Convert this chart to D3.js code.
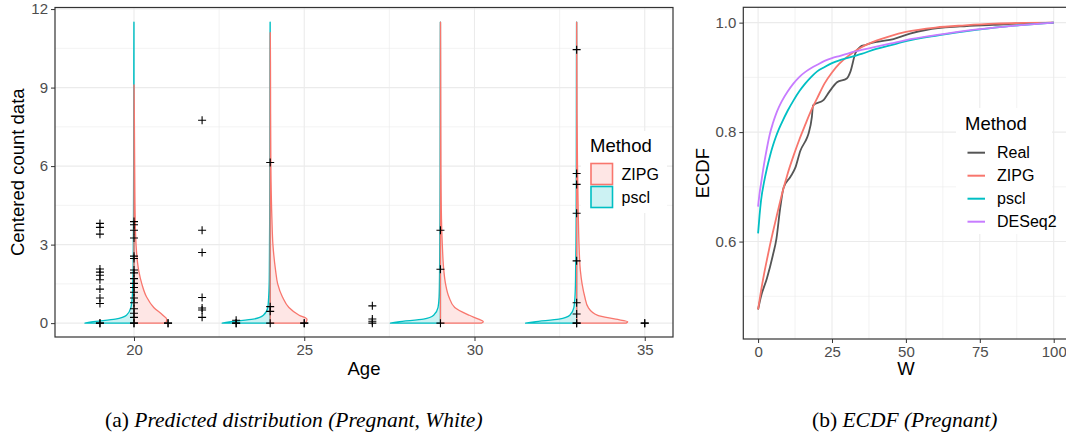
<!DOCTYPE html>
<html>
<head>
<meta charset="utf-8">
<script src="https://cdn.jsdelivr.net/npm/d3@7"></script>
<style>
  body { margin: 0; background: #fff; }
  text { font-family: 'Liberation Sans', Arial, sans-serif; }
</style>
</head>
<body>
<svg id="chart" width="1066" height="437"></svg>
<script>
// ---------- data: panel (a) ----------
const violinAges = [20, 24, 29, 33];
const violinY = [0, 0.05, 0.15, 0.3, 0.6, 1, 1.5, 2, 3, 4, 6, 8, 10, 11.5];
// half-widths in age units, ZIPG to the right, pscl to the left
const zipgWidths = [
  [0.90, 0.95, 0.96, 0.85, 0.58, 0.37, 0.23, 0.14, 0.06, 0.035, 0.02, 0.01, 0.006, 0.004],
  [1.00, 1.06, 1.08, 0.85, 0.55, 0.36, 0.22, 0.16, 0.08, 0.05, 0.02, 0.012, 0.008, 0.004],
  [1.20, 1.26, 1.12, 0.85, 0.42, 0.25, 0.15, 0.10, 0.055, 0.03, 0.015, 0.01, 0.007, 0.004],
  [1.45, 1.50, 1.15, 0.62, 0.34, 0.24, 0.16, 0.11, 0.07, 0.05, 0.025, 0.012, 0.008, 0.004]
];
const psclWidths = [
  [1.44, 1.25, 0.55, 0.22, 0.09, 0.05, 0.035, 0.025, 0.02, 0.015, 0.01, 0.008, 0.006, 0.004],
  [1.41, 1.20, 0.50, 0.20, 0.07, 0.045, 0.03, 0.025, 0.02, 0.015, 0.01, 0.008, 0.006, 0.004],
  [1.47, 1.25, 0.50, 0.20, 0.07, 0.04, 0.03, 0.025, 0.02, 0.015, 0.01, 0.008, 0.006, 0.004],
  [1.50, 1.25, 0.52, 0.20, 0.08, 0.05, 0.035, 0.03, 0.02, 0.015, 0.01, 0.008, 0.006, 0.004]
];
const zipgTop = [9.1, 11.1, 11.5, 11.5];
const psclTop = [11.5, 11.5, 11.5, 11.5];

const pointAges = [19, 20, 21, 22, 23, 24, 25, 27, 29, 33, 35];
const pointValues = [
  [3.81, 3.66, 3.40, 2.07, 1.95, 1.83, 1.66, 1.30, 0.96, 0.75, 0, 0],
  [3.88, 3.76, 3.55, 3.25, 2.56, 2.47, 2.03, 1.92, 1.70, 1.52, 1.36, 1.18, 0.96, 0.78, 0.55, 0.38, 0.22, 0, 0],
  [0, 0],
  [7.75, 3.55, 2.70, 0.98, 0.58, 0.50, 0.22],
  [0.11, 0, 0],
  [6.14, 0.63, 0.45, 0],
  [0, 0],
  [0.66, 0.16, 0.07, 0],
  [3.55, 2.06, 0],
  [10.45, 5.72, 5.30, 4.20, 2.38, 0.78, 0.35, 0, 0],
  [0, 0]
];
const ageTicks = [20, 25, 30, 35];
const ageMinor = [22.5, 27.5, 32.5];
const countTicks = [0, 3, 6, 9, 12];
const countMinor = [1.5, 4.5, 7.5, 10.5];
const methodsA = ['ZIPG', 'pscl'];

// ---------- data: panel (b) ----------
const realW = [0, 1, 3, 5, 6.2, 7.5, 8.6, 10.9, 12.6, 14.3, 16.5, 17.1, 18.2, 18.6, 22.2, 24, 26.7, 30, 31.2, 32.9, 34.6, 36.2, 37.9, 40.2, 45.8, 51.4, 57.1, 68.3, 79.6, 90.9, 100];
const realEcdf = [0.476, 0.50, 0.533, 0.575, 0.605, 0.662, 0.698, 0.718, 0.735, 0.766, 0.789, 0.798, 0.828, 0.849, 0.859, 0.873, 0.891, 0.898, 0.91, 0.944, 0.956, 0.959, 0.962, 0.965, 0.97, 0.98, 0.987, 0.993, 0.996, 0.999, 1.0];
const ecdfW = [0, 0.5, 1, 2, 3, 4, 5, 6, 7, 8, 10, 12, 14, 16, 18, 20, 22.5, 25, 27.5, 30, 32.5, 35, 40, 45, 50, 60, 70, 80, 90, 100];
const zipgEcdf = [0.476, 0.493, 0.51, 0.54, 0.567, 0.593, 0.617, 0.64, 0.663, 0.685, 0.724, 0.757, 0.787, 0.814, 0.84, 0.862, 0.889, 0.909, 0.925, 0.937, 0.947, 0.955, 0.967, 0.976, 0.983, 0.991, 0.995, 0.998, 0.9995, 1];
const psclEcdf = [0.615, 0.648, 0.675, 0.708, 0.734, 0.756, 0.775, 0.791, 0.805, 0.817, 0.839, 0.858, 0.875, 0.889, 0.901, 0.911, 0.919, 0.926, 0.931, 0.935, 0.939, 0.943, 0.952, 0.959, 0.966, 0.976, 0.984, 0.991, 0.996, 1];
const deseqEcdf = [0.664, 0.688, 0.706, 0.741, 0.771, 0.797, 0.816, 0.832, 0.845, 0.856, 0.874, 0.889, 0.901, 0.91, 0.917, 0.923, 0.93, 0.935, 0.939, 0.943, 0.947, 0.95, 0.956, 0.962, 0.968, 0.977, 0.985, 0.991, 0.996, 1];
const wTicks = [0, 25, 50, 75, 100];
const wMinor = [12.5, 37.5, 62.5, 87.5];
const ecdfTicks = [0.6, 0.8, 1.0];
const ecdfMinor = [0.5, 0.7, 0.9];
const methodsB = ['Real', 'ZIPG', 'pscl', 'DESeq2'];

// ---------- styles ----------
const colors = { Real: '#555555', ZIPG: '#F8766D', pscl: '#00BFC4', DESeq2: '#C77CFF' };
const fills = { ZIPG: 'rgba(248,118,109,0.18)', pscl: 'rgba(0,191,196,0.2)' };
const gridCol = '#EBEBEB';
const axisCol = '#333333';
const tickTextCol = '#4D4D4D';

const svg = d3.select('#chart');

function drawGrid(g, x, y, box, xMaj, xMin, yMaj, yMin) {
    g.append('rect').attr('x', box.left).attr('y', box.top)
        .attr('width', box.right - box.left).attr('height', box.bottom - box.top)
        .attr('fill', '#fff');
    xMin.forEach(v => g.append('line').attr('x1', x(v)).attr('x2', x(v))
        .attr('y1', box.top).attr('y2', box.bottom).attr('stroke', gridCol).attr('stroke-width', 0.6));
    yMin.forEach(v => g.append('line').attr('y1', y(v)).attr('y2', y(v))
        .attr('x1', box.left).attr('x2', box.right).attr('stroke', gridCol).attr('stroke-width', 0.6));
    xMaj.forEach(v => g.append('line').attr('x1', x(v)).attr('x2', x(v))
        .attr('y1', box.top).attr('y2', box.bottom).attr('stroke', gridCol).attr('stroke-width', 1.1));
    yMaj.forEach(v => g.append('line').attr('y1', y(v)).attr('y2', y(v))
        .attr('x1', box.left).attr('x2', box.right).attr('stroke', gridCol).attr('stroke-width', 1.1));
}

function drawAxes(g, x, y, box, xTicks, yTicks, yFmt) {
    const ax = g.append('g').attr('transform', `translate(0,${box.bottom})`)
        .call(d3.axisBottom(x).tickValues(xTicks).tickSize(4).tickPadding(3));
    const ay = g.append('g').attr('transform', `translate(${box.left},0)`)
        .call(d3.axisLeft(y).tickValues(yTicks).tickSize(4).tickPadding(3).tickFormat(yFmt));
    [ax, ay].forEach(a => {
        a.select('.domain').remove();
        a.selectAll('line').attr('stroke', axisCol).attr('stroke-width', 1);
        a.selectAll('text').attr('fill', tickTextCol).style('font-size', '15px')
            .style('font-family', "'Liberation Sans', Arial, sans-serif");
    });
    g.append('rect').attr('x', box.left).attr('y', box.top)
        .attr('width', box.right - box.left).attr('height', box.bottom - box.top)
        .attr('fill', 'none').attr('stroke', axisCol).attr('stroke-width', 1.2);
}

// ================= Panel (a) =================
const A = { left: 55, right: 673, top: 7.5, bottom: 337 };
const xA = d3.scaleLinear().domain([17.68, 35.83]).range([A.left, A.right]);
const yA = d3.scaleLinear().domain([-0.53, 12.06]).range([A.bottom, A.top]);
const gA = svg.append('g');
drawGrid(gA, xA, yA, A, ageTicks, ageMinor, countTicks, countMinor);

function halfViolin(age, widths, top, side) {
    const pts = [];
    violinY.forEach((v, i) => { if (v < top) pts.push({ y: v, w: widths[i] }); });
    pts.push({ y: top, w: 0.003 });
    return d3.area()
        .y(d => yA(d.y))
        .x0(() => xA(age))
        .x1(d => xA(age + side * d.w))
        .curve(d3.curveMonotoneY)(pts);
}

// pscl first, ZIPG on top
violinAges.forEach((age, i) => {
    gA.append('path').attr('d', halfViolin(age, psclWidths[i], psclTop[i], -1))
        .attr('fill', fills.pscl).attr('stroke', colors.pscl).attr('stroke-width', 1.3)
        .attr('stroke-linejoin', 'round');
});
violinAges.forEach((age, i) => {
    gA.append('path').attr('d', halfViolin(age, zipgWidths[i], zipgTop[i], 1))
        .attr('fill', fills.ZIPG).attr('stroke', colors.ZIPG).attr('stroke-width', 1.3)
        .attr('stroke-linejoin', 'round');
});

// observed points as '+'
pointAges.forEach((age, i) => {
    pointValues[i].forEach(v => {
        const px = xA(age), py = yA(v);
        gA.append('path')
            .attr('d', `M${px - 4},${py}h8M${px},${py - 4}v8`)
            .attr('stroke', '#000').attr('stroke-width', 1.1).attr('fill', 'none');
    });
});

drawAxes(gA, xA, yA, A, ageTicks, countTicks, d3.format('d'));

gA.append('text').attr('x', (A.left + A.right) / 2).attr('y', 375)
    .attr('text-anchor', 'middle').style('font-size', '18.5px').attr('fill', '#000').text('Age');
gA.append('text').attr('transform', `translate(24,${(A.top + A.bottom) / 2}) rotate(-90)`)
    .attr('text-anchor', 'middle').style('font-size', '18.5px').attr('fill', '#000')
    .text('Centered count data');

// legend (a)
const legA = gA.append('g');
legA.append('rect').attr('x', 581).attr('y', 131).attr('width', 86).attr('height', 82).attr('fill', '#fff');
legA.append('text').attr('x', 590).attr('y', 152).style('font-size', '18.5px').text('Method');
methodsA.forEach((m, i) => {
    const ky = 163.5 + i * 23;
    legA.append('rect').attr('x', 591).attr('y', ky).attr('width', 21.5).attr('height', 21)
        .attr('fill', fills[m]).attr('stroke', colors[m]).attr('stroke-width', 1.6);
    legA.append('text').attr('x', 621.5).attr('y', ky + 16.3).style('font-size', '16px').text(m);
});

// ================= Panel (b) =================
const B = { left: 743.3, right: 1068.5, top: 7.3, bottom: 339 };
const xB = d3.scaleLinear().domain([-5, 105]).range([B.left, B.right]);
const yB = d3.scaleLinear().domain([0.422, 1.028]).range([B.bottom, B.top]);
const gB = svg.append('g');
drawGrid(gB, xB, yB, B, wTicks, wMinor, ecdfTicks, ecdfMinor);

const line = d3.line().x(d => xB(d[0])).y(d => yB(d[1])).curve(d3.curveMonotoneX);
const series = [
    { name: 'Real', w: realW, v: realEcdf },
    { name: 'ZIPG', w: ecdfW, v: zipgEcdf },
    { name: 'pscl', w: ecdfW, v: psclEcdf },
    { name: 'DESeq2', w: ecdfW, v: deseqEcdf }
];
series.forEach(s => {
    gB.append('path').attr('d', line(s.w.map((w, i) => [w, s.v[i]])))
        .attr('fill', 'none').attr('stroke', colors[s.name]).attr('stroke-width', 1.8)
        .attr('stroke-linejoin', 'round');
});

drawAxes(gB, xB, yB, B, wTicks, ecdfTicks, d3.format('.1f'));

gB.append('text').attr('x', (B.left + B.right) / 2).attr('y', 375)
    .attr('text-anchor', 'middle').style('font-size', '18.5px').text('W');
gB.append('text').attr('transform', `translate(708.5,${(B.top + B.bottom) / 2}) rotate(-90)`)
    .attr('text-anchor', 'middle').style('font-size', '18.5px').text('ECDF');

// legend (b)
const legB = gB.append('g');
legB.append('rect').attr('x', 956).attr('y', 108).attr('width', 96).attr('height', 126).attr('fill', '#fff');
legB.append('text').attr('x', 965).attr('y', 130).style('font-size', '18.5px').text('Method');
methodsB.forEach((m, i) => {
    const ly = 152.7 + i * 23;
    legB.append('line').attr('x1', 967.5).attr('x2', 985).attr('y1', ly).attr('y2', ly)
        .attr('stroke', colors[m]).attr('stroke-width', 2);
    legB.append('text').attr('x', 997).attr('y', ly + 5.7).style('font-size', '16px').text(m);
});

// ================= captions =================
function caption(x, y, label, rest) {
    const t = svg.append('text').attr('x', x).attr('y', y)
        .style('font-family', "'Liberation Serif', 'Times New Roman', serif")
        .style('font-size', '21.5px').attr('fill', '#000');
    t.append('tspan').text(label + ' ');
    t.append('tspan').style('font-style', 'italic').text(rest);
}
caption(105, 427, '(a)', 'Predicted distribution (Pregnant, White)');
caption(812, 427, '(b)', 'ECDF (Pregnant)');
</script>
</body>
</html>
